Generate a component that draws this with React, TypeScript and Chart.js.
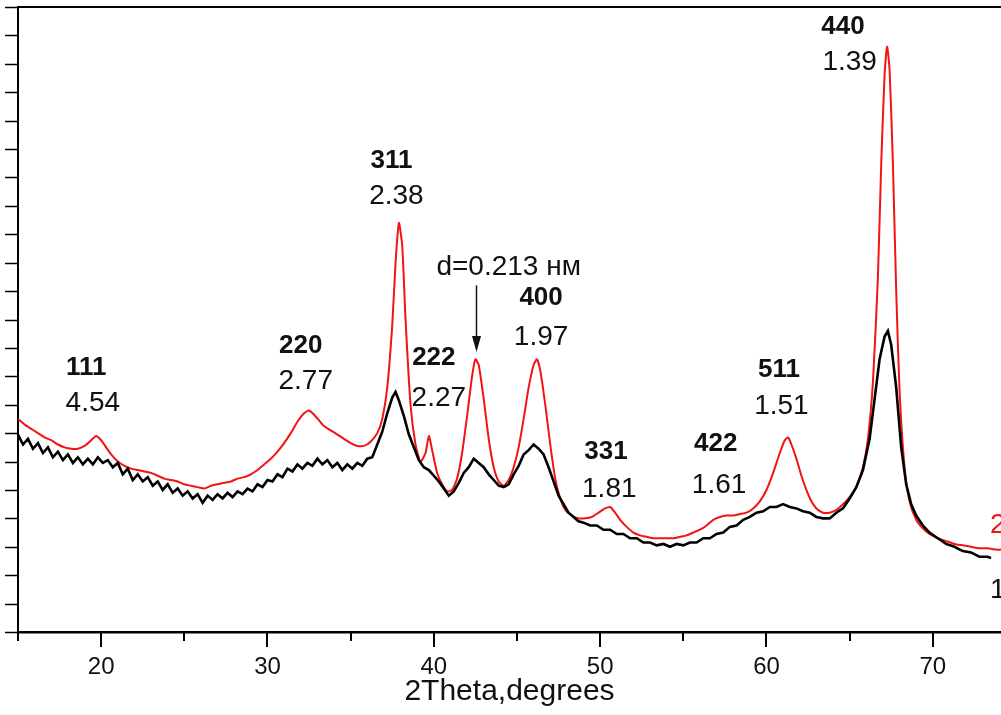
import React, { useEffect, useRef } from "react";
import { Chart, registerables } from "chart.js";

Chart.register(...registerables);

// Pattern 2 (red): 2θ in degrees and intensity in arbitrary units
const redTheta = [
  15.0, 15.4, 15.8, 16.2, 16.6, 17.0, 17.4, 17.8, 18.2, 18.6, 19.0, 19.4, 19.7, 20.0, 20.3, 20.6,
  21.0, 21.4, 21.8, 22.2, 22.6, 23.0, 23.4, 23.8, 24.2, 24.6, 25.0, 25.4, 25.8, 26.2, 26.6, 27.0,
  27.4, 27.8, 28.2, 28.6, 29.0, 29.4, 29.8, 30.2, 30.6, 31.0, 31.4, 31.8, 32.2, 32.5, 32.8, 33.1,
  33.4, 33.8, 34.2, 34.6, 35.0, 35.4, 35.8, 36.2, 36.6, 36.9, 37.2, 37.5, 37.7, 37.9, 38.1, 38.3,
  38.6, 38.9, 39.2, 39.5, 39.7, 39.9, 40.2, 40.5, 40.8, 41.1, 41.4, 41.7, 42.0, 42.3, 42.5, 42.7,
  43.0, 43.3, 43.6, 43.9, 44.2, 44.5, 44.8, 45.1, 45.4, 45.7, 46.0, 46.2, 46.4, 46.7, 47.0, 47.3,
  47.6, 47.9, 48.3, 48.7, 49.1, 49.5, 49.9, 50.3, 50.6, 50.9, 51.2, 51.6, 52.0, 52.4, 52.8, 53.2,
  53.6, 54.0, 54.4, 54.8, 55.2, 55.6, 56.0, 56.4, 56.8, 57.2, 57.6, 58.0, 58.4, 58.8, 59.2, 59.6,
  60.0, 60.4, 60.8, 61.1, 61.3, 61.5, 61.8, 62.1, 62.4, 62.7, 63.0, 63.4, 63.8, 64.2, 64.6, 65.0,
  65.4, 65.8, 66.1, 66.4, 66.7, 66.9, 67.1, 67.25, 67.4, 67.6, 67.8, 68.0, 68.3, 68.6, 69.0, 69.4,
  69.8, 70.3, 70.8, 71.3, 71.8, 72.3, 72.8, 73.3, 73.8, 74.1,
];
const redCounts = [
  7.5, 7.3, 7.15, 7.0, 6.85, 6.75, 6.6, 6.5, 6.45, 6.45, 6.55, 6.75, 6.9, 6.75, 6.5, 6.25,
  6.0, 5.85, 5.75, 5.7, 5.65, 5.6, 5.5, 5.4, 5.35, 5.3, 5.2, 5.15, 5.1, 5.05, 5.15, 5.2,
  5.25, 5.3, 5.4, 5.45, 5.55, 5.7, 5.9, 6.1, 6.35, 6.65, 7.0, 7.4, 7.7, 7.8, 7.65, 7.45,
  7.25, 7.1, 6.95, 6.8, 6.65, 6.55, 6.55, 6.7, 7.0, 7.5, 8.6, 10.8, 13.0, 14.4, 13.6, 11.0,
  8.0, 6.6, 6.0, 6.3, 6.9, 6.4, 5.6, 5.2, 4.95, 5.0, 5.4, 6.3, 7.6, 9.0, 9.6, 9.4,
  8.2, 6.8, 5.8, 5.3, 5.15, 5.35, 5.8, 6.5, 7.5, 8.6, 9.4, 9.6, 9.2, 8.0, 6.6, 5.4,
  4.7, 4.3, 4.1, 4.0, 4.0, 4.05, 4.2, 4.35, 4.4, 4.2, 3.95, 3.7, 3.5, 3.4, 3.35, 3.3,
  3.3, 3.3, 3.3, 3.35, 3.4, 3.5, 3.6, 3.75, 3.95, 4.05, 4.1, 4.1, 4.15, 4.2, 4.35, 4.6,
  5.0, 5.6, 6.3, 6.75, 6.85, 6.6, 6.1, 5.5, 5.0, 4.6, 4.35, 4.2, 4.2, 4.3, 4.5, 4.75,
  5.1, 5.8, 6.8, 8.8, 12.5, 16.5, 19.6, 20.6, 19.8, 16.5, 12.0, 8.5, 5.8, 4.6, 3.95, 3.65,
  3.45, 3.3, 3.2, 3.1, 3.05, 3.0, 2.95, 2.95, 2.9, 2.9,
];

// Pattern 1 (black)
const blackTheta = [
  15.0, 15.3, 15.6, 15.9, 16.2, 16.5, 16.8, 17.1, 17.4, 17.7, 18.0, 18.3, 18.6, 18.9, 19.2, 19.5,
  19.8, 20.1, 20.4, 20.7, 21.0, 21.3, 21.6, 21.9, 22.2, 22.5, 22.8, 23.1, 23.4, 23.7, 24.0, 24.3,
  24.6, 24.9, 25.2, 25.5, 25.8, 26.1, 26.4, 26.7, 27.0, 27.3, 27.6, 27.9, 28.2, 28.5, 28.8, 29.1,
  29.4, 29.7, 30.0, 30.3, 30.6, 30.9, 31.2, 31.5, 31.8, 32.1, 32.4, 32.7, 33.0, 33.3, 33.6, 33.9,
  34.2, 34.5, 34.8, 35.1, 35.4, 35.7, 36.0, 36.3, 36.6, 36.9, 37.2, 37.5, 37.7, 37.9, 38.2, 38.5,
  38.8, 39.1, 39.4, 39.7, 40.0, 40.3, 40.6, 40.9, 41.2, 41.5, 41.8, 42.1, 42.4, 42.7, 43.0, 43.3,
  43.6, 43.9, 44.2, 44.5, 44.8, 45.1, 45.4, 45.7, 46.0, 46.3, 46.6, 46.9, 47.2, 47.5, 47.8, 48.1,
  48.4, 48.7, 49.0, 49.4, 49.8, 50.2, 50.6, 51.0, 51.4, 51.8, 52.2, 52.6, 53.0, 53.4, 53.8, 54.2,
  54.6, 55.0, 55.4, 55.8, 56.2, 56.6, 57.0, 57.4, 57.8, 58.2, 58.6, 59.0, 59.4, 59.8, 60.2, 60.6,
  61.0, 61.4, 61.8, 62.2, 62.6, 63.0, 63.4, 63.8, 64.2, 64.6, 65.0, 65.4, 65.8, 66.2, 66.5, 66.8,
  67.1, 67.3, 67.5, 67.8, 68.1, 68.4, 68.7, 69.0, 69.4, 69.8, 70.3, 70.8, 71.3, 71.8, 72.3, 72.8,
  73.3, 73.5,
];
const blackCounts = [
  6.95, 6.6, 6.8, 6.45, 6.65, 6.3, 6.5, 6.15, 6.35, 6.05, 6.25, 5.95, 6.15, 5.9, 6.1, 5.9,
  6.15, 5.95, 6.05, 5.8, 5.95, 5.55, 5.75, 5.35, 5.55, 5.3, 5.45, 5.15, 5.3, 5.0, 5.2, 4.9,
  5.05, 4.8, 4.95, 4.7, 4.85, 4.55, 4.8, 4.65, 4.85, 4.7, 4.9, 4.75, 4.95, 4.85, 5.05, 4.95,
  5.2, 5.1, 5.35, 5.3, 5.55, 5.45, 5.75, 5.65, 5.9, 5.75, 5.95, 5.85, 6.1, 5.9, 6.05, 5.8,
  5.95, 5.7, 5.9, 5.75, 5.95, 5.85, 6.1, 6.15, 6.6, 7.05, 7.7, 8.25, 8.45, 8.15, 7.6, 6.95,
  6.5, 6.05, 5.8, 5.7, 5.5, 5.3, 5.05, 4.8, 4.95, 5.25, 5.6, 5.8, 6.1, 5.95, 5.8, 5.55,
  5.35, 5.15, 5.1, 5.2, 5.55, 5.85, 6.25, 6.4, 6.6, 6.45, 6.25, 5.8, 5.3, 4.8, 4.5, 4.2,
  4.05, 3.9, 3.85, 3.75, 3.75, 3.6, 3.6, 3.45, 3.45, 3.3, 3.3, 3.15, 3.15, 3.05, 3.1, 3.0,
  3.1, 3.05, 3.15, 3.15, 3.3, 3.3, 3.45, 3.5, 3.7, 3.75, 3.95, 4.05, 4.2, 4.25, 4.4, 4.4,
  4.5, 4.4, 4.35, 4.25, 4.2, 4.05, 4.0, 4.0, 4.2, 4.35, 4.7, 5.1, 5.7, 6.8, 8.2, 9.6,
  10.4, 10.6, 10.1, 8.6, 6.5, 5.2, 4.5, 4.1, 3.75, 3.5, 3.3, 3.1, 3.0, 2.85, 2.8, 2.65,
  2.65, 2.6,
];

// Reflection indices and interplanar spacings (Å), anchored in data units
const hklLabels = ["111", "220", "311", "222", "400", "331", "422", "511", "440"];
const hklTheta = [19.1, 32.0, 37.45, 40.0, 46.45, 50.35, 56.95, 60.75, 64.6];
const hklLevel = [9.3, 10.07, 16.58, 9.65, 11.76, 6.34, 6.62, 9.23, 21.3];
const dLabels = ["4.54", "2.77", "2.38", "2.27", "1.97", "1.81", "1.61", "1.51", "1.39"];
const dTheta = [19.5, 32.3, 37.75, 40.3, 46.45, 50.55, 57.15, 60.9, 65.0];
const dLevel = [8.05, 8.84, 15.32, 8.24, 10.39, 5.04, 5.18, 7.96, 20.06];

// Marker for the 0.213 nm reflection
const arrowText = "d=0.213 нм";
const arrowTheta = 42.54;
const arrowFrom = 12.2;
const arrowTo = 9.86;
const arrowTextTheta = 44.5;
const arrowTextLevel = 12.85;

// Curve numbers at the right edge
const curveNames = ["2", "1"];
const curveNameTheta = 73.9;
const curveNameLevel = [3.77, 1.48];

const xTitle = "2Theta,degrees";
const FONT = '"Liberation Sans", Arial, Helvetica, sans-serif';
const RED = "#f21313";

const decorations = {
  id: "decorations",
  afterDraw(chart: any) {
    const { ctx, chartArea } = chart;
    const x = chart.scales.x;
    const y = chart.scales.y;
    ctx.save();
    ctx.strokeStyle = "#000";
    ctx.fillStyle = "#000";

    // top frame line
    ctx.lineWidth = 2;
    ctx.beginPath();
    ctx.moveTo(chartArea.left, chartArea.top);
    ctx.lineTo(chartArea.right, chartArea.top);
    ctx.stroke();

    // x tick marks: long at tens, short at fives
    ctx.lineWidth = 2;
    for (const t of x.ticks) {
      const v = t.value;
      if (Math.abs(v / 5 - Math.round(v / 5)) > 1e-6) continue;
      const px = Math.round(x.getPixelForValue(v));
      const major = Math.abs(v / 10 - Math.round(v / 10)) < 1e-6;
      ctx.beginPath();
      ctx.moveTo(px, chartArea.bottom);
      ctx.lineTo(px, chartArea.bottom + (major ? 15 : 9));
      ctx.stroke();
    }
    // y tick marks pointing outwards
    ctx.lineWidth = 1.5;
    for (const t of y.ticks) {
      const py = Math.round(y.getPixelForValue(t.value)) + 0.5;
      ctx.beginPath();
      ctx.moveTo(chartArea.left - 13, py);
      ctx.lineTo(chartArea.left, py);
      ctx.stroke();
    }

    ctx.textAlign = "center";
    ctx.textBaseline = "middle";
    ctx.fillStyle = "#111";
    ctx.font = `bold 26px ${FONT}`;
    hklLabels.forEach((s, i) => {
      ctx.fillText(s, x.getPixelForValue(hklTheta[i]), y.getPixelForValue(hklLevel[i]));
    });
    ctx.font = `28px ${FONT}`;
    dLabels.forEach((s, i) => {
      ctx.fillText(s, x.getPixelForValue(dTheta[i]), y.getPixelForValue(dLevel[i]));
    });
    ctx.fillText(arrowText, x.getPixelForValue(arrowTextTheta), y.getPixelForValue(arrowTextLevel));

    // arrow
    const ax = Math.round(x.getPixelForValue(arrowTheta)) + 0.5;
    const y0 = y.getPixelForValue(arrowFrom);
    const y1 = y.getPixelForValue(arrowTo);
    ctx.strokeStyle = "#111";
    ctx.lineWidth = 1.5;
    ctx.beginPath();
    ctx.moveTo(ax, y0);
    ctx.lineTo(ax, y1 - 12);
    ctx.stroke();
    ctx.beginPath();
    ctx.moveTo(ax - 4.5, y1 - 16);
    ctx.lineTo(ax + 4.5, y1 - 16);
    ctx.lineTo(ax, y1);
    ctx.closePath();
    ctx.fill();

    ctx.fillStyle = RED;
    ctx.fillText(curveNames[0], x.getPixelForValue(curveNameTheta), y.getPixelForValue(curveNameLevel[0]));
    ctx.fillStyle = "#111";
    ctx.fillText(curveNames[1], x.getPixelForValue(curveNameTheta), y.getPixelForValue(curveNameLevel[1]));
    ctx.restore();
  },
};

export default function App() {
  const canvasRef = useRef<HTMLCanvasElement | null>(null);

  useEffect(() => {
    document.body.style.margin = "0";
    const canvas = canvasRef.current;
    if (!canvas) return;
    const chart = new Chart(canvas, {
      type: "line",
      data: {
        datasets: [
          {
            label: "1",
            data: blackTheta.map((t, i) => ({ x: t, y: blackCounts[i] })),
            borderColor: "#000",
            borderWidth: 2.6,
            pointRadius: 0,
            tension: 0,
          },
          {
            label: "2",
            data: redTheta.map((t, i) => ({ x: t, y: redCounts[i] })),
            borderColor: RED,
            borderWidth: 2,
            pointRadius: 0,
            tension: 0.2,
          },
        ],
      },
      options: {
        responsive: false,
        animation: false,
        events: [],
        layout: { padding: { top: 7, left: 0, right: 0, bottom: 0 } },
        plugins: { legend: { display: false }, tooltip: { enabled: false } },
        scales: {
          x: {
            type: "linear",
            min: 15,
            max: 74.1,
            grid: { display: false },
            border: { display: true, color: "#000", width: 2.5 },
            ticks: {
              stepSize: 5,
              includeBounds: false,
              autoSkip: false,
              maxRotation: 0,
              padding: 13,
              color: "#111",
              font: { family: FONT, size: 24 },
              callback: (v: any) => (Number(v) % 10 === 0 ? String(v) : ""),
            },
            title: {
              display: true,
              text: xTitle,
              color: "#111",
              font: { family: FONT, size: 30 },
              padding: { top: 0, bottom: 5 },
            },
            afterFit: (s: any) => {
              s.height = 715 - 632;
            },
          },
          y: {
            type: "linear",
            min: 0,
            max: 22,
            grid: { display: false },
            border: { display: true, color: "#000", width: 2 },
            ticks: { display: false, stepSize: 1 },
            afterFit: (s: any) => {
              s.width = 18;
            },
          },
        },
      },
      plugins: [decorations],
    });
    return () => chart.destroy();
  }, []);

  return (
    <div style={{ width: 1001, height: 715, background: "#fff" }}>
      <canvas ref={canvasRef} width={1001} height={715} />
    </div>
  );
}
